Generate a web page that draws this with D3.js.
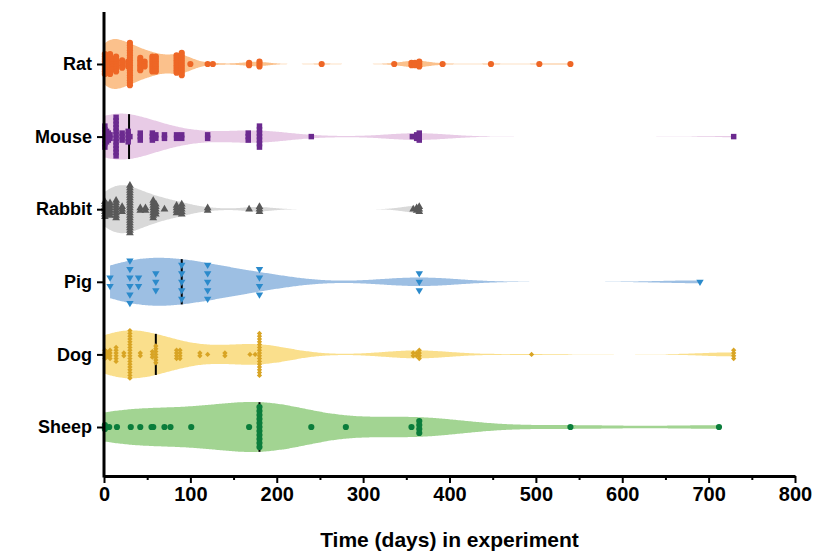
<!DOCTYPE html>
<html>
<head>
<meta charset="utf-8">
<script src="https://cdn.jsdelivr.net/npm/d3@7"></script>
<style>
  body { margin: 0; background: #fff; }
  svg { display: block; font-family: "Liberation Sans", Arial, sans-serif; }
  .tick text { font-weight: bold; fill: #000; }
</style>
</head>
<body>
<svg id="chart"></svg>
<script>
// categories, top to bottom
var species = ["Rat", "Mouse", "Rabbit", "Pig", "Dog", "Sheep"];

// time points (days) and how many observations sit at each one
var ratDays      = [1, 3, 5, 7, 10, 14, 21, 28, 30, 42, 47, 56, 60, 84, 90, 100, 120, 126, 168, 180, 252, 336, 356, 360, 365, 392, 448, 504, 540];
var ratCounts    = [9, 8, 6, 9, 5, 7, 4, 3, 18, 6, 3, 7, 7, 8, 10, 1, 1, 1, 2, 3, 1, 1, 2, 2, 3, 1, 1, 1, 1];
var mouseDays    = [1, 3, 5, 7, 14, 21, 28, 30, 42, 56, 60, 70, 84, 90, 120, 167, 180, 240, 357, 362, 365, 729];
var mouseCounts  = [7, 4, 3, 2, 12, 3, 4, 1, 3, 3, 2, 2, 2, 2, 2, 3, 7, 1, 1, 2, 3, 1];
var rabbitDays   = [1, 3, 7, 14, 21, 30, 42, 48, 57, 60, 70, 84, 90, 120, 168, 180, 358, 362, 365];
var rabbitCounts = [7, 5, 6, 8, 3, 20, 2, 2, 8, 5, 1, 4, 5, 2, 1, 3, 1, 2, 3];
var pigDays      = [7, 30, 40, 60, 90, 120, 180, 365, 690];
var pigCounts    = [2, 6, 2, 3, 5, 5, 4, 3, 1];
var dogDays      = [1, 3, 5, 7, 14, 23, 30, 42, 56, 60, 84, 88, 111, 120, 140, 169, 175, 180, 358, 362, 365, 495, 729];
var dogCounts    = [4, 3, 2, 4, 6, 2, 18, 2, 3, 7, 4, 4, 2, 1, 2, 1, 1, 16, 2, 2, 4, 1, 4];
var sheepDays    = [1, 6, 15, 31, 42, 55, 57, 70, 77, 101, 168, 180, 240, 280, 356, 365, 540, 712];
var sheepCounts  = [2, 1, 1, 1, 1, 1, 1, 1, 1, 1, 1, 11, 1, 1, 1, 4, 1, 1];

var xTicks = [0, 100, 200, 300, 400, 500, 600, 700, 800];
var xMinorTicks = [50, 150, 250, 350, 450, 550, 650, 750];

// look of each row
var violinColors = ["#fbc18c", "#e8cbe6", "#d9d9d9", "#9dbfe3", "#fadf8c", "#a2d492"];
var pointColors  = ["#ee6625", "#6b2a8f", "#595959", "#2b8acb", "#d8a424", "#0a7d3b"];
var styles = [
  { bw: 14, half: 25, step: 2.5, sym: d3.symbolCircle, size: 30, rot: 0 },
  { bw: 36, half: 23, step: 3.5, sym: d3.symbolSquare, size: 30, rot: 0 },
  { bw: 17, half: 24, step: 2.5, sym: d3.symbolTriangle, size: 26, rot: 0 },
  { bw: 45, half: 24, step: 8.5, sym: d3.symbolTriangle, size: 24, rot: 180 },
  { bw: 38, half: 24, step: 2.8, sym: d3.symbolSquare, size: 14, rot: 45 },
  { bw: 60, half: 25, step: 4, sym: d3.symbolCircle, size: 30, rot: 0 }
];

var rows = [
  [ratDays, ratCounts], [mouseDays, mouseCounts], [rabbitDays, rabbitCounts],
  [pigDays, pigCounts], [dogDays, dogCounts], [sheepDays, sheepCounts]
];

var svgWidth = 813, svgHeight = 552;
var svg = d3.select("#chart").attr("width", svgWidth).attr("height", svgHeight);

var x = d3.scaleLinear().domain([0, 800]).range([104, 795]);
var y = d3.scalePoint().domain(species).range([64, 427]);

function gauss(u) { return Math.exp(-0.5 * u * u) / Math.sqrt(2 * Math.PI); }

var violins = svg.append("g");
var medians = svg.append("g");
var points = svg.append("g");

rows.forEach(function(r, i) {
  var st = styles[i];
  var cy = y(species[i]);
  var values = [];
  r[0].forEach(function(d, j) { for (var k = 0; k < r[1][j]; k++) values.push(d); });
  values.sort(d3.ascending);

  // violin from a gaussian kde, cut at the data range
  var lo = d3.min(values), hi = d3.max(values);
  var grid = d3.range(0, 401).map(function(k) { return lo + (hi - lo) * k / 400; });
  var dens = grid.map(function(t) {
    return [t, d3.mean(values, function(v) { return gauss((t - v) / st.bw); }) / st.bw];
  });
  var maxD = d3.max(dens, function(d) { return d[1]; });
  var w = d3.scaleLinear().domain([0, maxD]).range([0, st.half]);

  violins.append("path")
    .datum(dens)
    .attr("fill", violinColors[i])
    .attr("d", d3.area()
      .x(function(d) { return x(d[0]); })
      .y0(function(d) { return cy - w(d[1]); })
      .y1(function(d) { return cy + w(d[1]); })
      .curve(d3.curveBasis));

  // median line across the violin
  var med = d3.median(values);
  var medW = w(d3.mean(values, function(v) { return gauss((med - v) / st.bw); }) / st.bw);
  medians.append("line")
    .attr("x1", x(med)).attr("x2", x(med))
    .attr("y1", cy - medW).attr("y2", cy + medW)
    .attr("stroke", "#000").attr("stroke-width", 2);

  // stack equal values vertically, centre out
  var pts = [];
  r[0].forEach(function(d, j) {
    var n = r[1][j];
    for (var k = 0; k < n; k++) {
      var off = (k - (n - 1) / 2) * st.step;
      pts.push({ day: d, dy: off });
    }
  });

  points.selectAll(null)
    .data(pts)
    .enter()
    .append("path")
    .attr("d", d3.symbol().type(st.sym).size(st.size))
    .attr("transform", function(d) {
      return "translate(" + x(d.day) + "," + (cy + d.dy) + ") rotate(" + st.rot + ")";
    })
    .attr("fill", pointColors[i]);
});

// x axis
var xAxis = svg.append("g")
  .attr("transform", "translate(0,476)")
  .call(d3.axisBottom(x).tickValues(xTicks).tickSize(7).tickSizeOuter(0).tickPadding(4));
xAxis.select(".domain").attr("stroke-width", 3);
xAxis.selectAll(".tick line").attr("stroke-width", 2);
xAxis.selectAll(".tick text").style("font-size", "20px");

svg.append("g")
  .attr("transform", "translate(0,476)")
  .call(d3.axisBottom(x).tickValues(xMinorTicks).tickSize(4).tickFormat(""))
  .call(function(g) { g.select(".domain").remove(); })
  .selectAll(".tick line").attr("stroke-width", 2);

// y axis
var yAxis = svg.append("g")
  .attr("transform", "translate(104,0)")
  .call(d3.axisLeft(y).tickSize(7).tickPadding(5));
yAxis.select(".domain").remove();
yAxis.selectAll(".tick line").attr("stroke-width", 2);
yAxis.selectAll(".tick text").style("font-size", "18px");

svg.append("line")
  .attr("x1", 104).attr("x2", 104)
  .attr("y1", 12).attr("y2", 477.5)
  .attr("stroke", "#000").attr("stroke-width", 3);

// axis title
svg.append("text")
  .attr("x", x(400))
  .attr("y", 547)
  .attr("text-anchor", "middle")
  .style("font-size", "21px")
  .style("font-weight", "bold")
  .text("Time (days) in experiment");
</script>
</body>
</html>
